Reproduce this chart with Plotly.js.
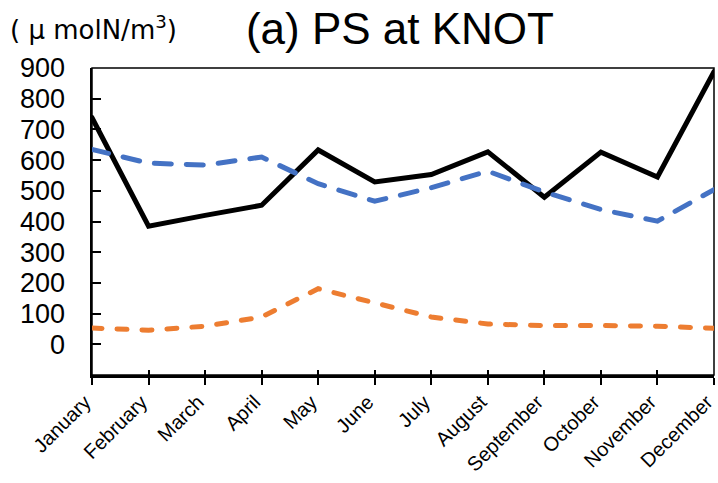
<!DOCTYPE html>
<html>
<head>
<meta charset="utf-8">
<script src="https://cdn.plot.ly/plotly-3.0.1.min.js"></script>
<style>
  html, body { margin: 0; padding: 0; background: #fff; }
  #chart { width: 718px; height: 483px; }
  #chart .js-line { stroke-linecap: round; }
</style>
</head>
<body>
<div id="chart"></div>
<script>
// Monthly values (μmolN/m³) at station KNOT
const months = ['January', 'February', 'March', 'April', 'May', 'June',
                'July', 'August', 'September', 'October', 'November', 'December'];
const seriesBlack  = [738, 385, 420, 453, 633, 529, 553, 627, 479, 626, 545, 888];
const seriesBlue   = [635, 590, 584, 610, 523, 466, 510, 564, 496, 439, 401, 504];
const seriesOrange = [53, 46, 59, 89, 181, 135, 89, 66, 61, 61, 59, 52];
const yTickValues  = [0, 100, 200, 300, 400, 500, 600, 700, 800, 900];

const traces = [
  { x: months, y: seriesBlack, type: 'scatter', mode: 'lines',
    line: { color: '#000000', width: 5 }, hoverinfo: 'x+y' },
  { x: months, y: seriesBlue, type: 'scatter', mode: 'lines',
    line: { color: '#4472C4', width: 5, dash: '17px,15px' }, hoverinfo: 'x+y' },
  // drawn on the overlay axis that carries the inner half of the crossing ticks
  { x: months, y: seriesOrange, type: 'scatter', mode: 'lines', xaxis: 'x2',
    line: { color: '#ED7D31', width: 5, dash: '10px,15px' }, hoverinfo: 'x+y' }
];

const lastIdx = months.length - 1;

const layout = {
  width: 718,
  height: 483,
  margin: { l: 92, r: 4, t: 68, b: 108, pad: 0 },
  paper_bgcolor: '#ffffff',
  plot_bgcolor: '#ffffff',
  showlegend: false,
  font: { family: 'Liberation Sans, Arial, sans-serif', color: '#000000' },
  title: {
    text: '(a) PS at KNOT',
    font: { size: 44, color: '#000000' },
    xref: 'container', yref: 'container',
    x: 0.557, xanchor: 'center',
    y: 0.94, yanchor: 'middle'
  },
  xaxis: {
    type: 'category',
    categoryorder: 'array', categoryarray: months,
    range: [0, lastIdx],
    showline: true, linecolor: '#000000', linewidth: 2.5,
    ticks: 'outside', ticklen: 7, tickwidth: 2, tickcolor: '#000000',
    tickangle: -45,
    tickfont: { size: 20 },
    ticklabelstandoff: -2,
    ticklabelshift: -7,
    showgrid: false, zeroline: false, fixedrange: true
  },
  xaxis2: {
    type: 'category',
    categoryorder: 'array', categoryarray: months,
    range: [0, lastIdx],
    overlaying: 'x', anchor: 'y', side: 'bottom',
    showline: false,
    ticks: 'inside', ticklen: 5, tickwidth: 2, tickcolor: '#000000',
    showticklabels: false,
    showgrid: false, zeroline: false, fixedrange: true
  },
  yaxis: {
    range: [-100, 900],
    tickmode: 'array', tickvals: yTickValues,
    showline: true, linecolor: '#000000', linewidth: 2.5,
    ticks: 'inside', ticklen: 9, tickwidth: 2, tickcolor: '#000000',
    tickfont: { size: 27 },
    ticklabelstandoff: 19,
    showgrid: false, zeroline: false, fixedrange: true
  },
  shapes: [{
    type: 'rect', xref: 'paper', yref: 'paper',
    x0: 0, x1: 1, y0: 0, y1: 1,
    line: { color: '#000000', width: 1.5 },
    layer: 'below'
  }],
  annotations: [{
    text: '(\u00A0μ\u00A0molN/m<sup>3</sup>)',
    xref: 'paper', yref: 'paper',
    x: -0.135, y: 1.13,
    xanchor: 'left', yanchor: 'middle',
    showarrow: false,
    font: { family: 'DejaVu Sans, sans-serif', size: 26, color: '#000000' }
  }]
};

Plotly.newPlot('chart', traces, layout, { displayModeBar: false, staticPlot: true });
</script>
</body>
</html>
